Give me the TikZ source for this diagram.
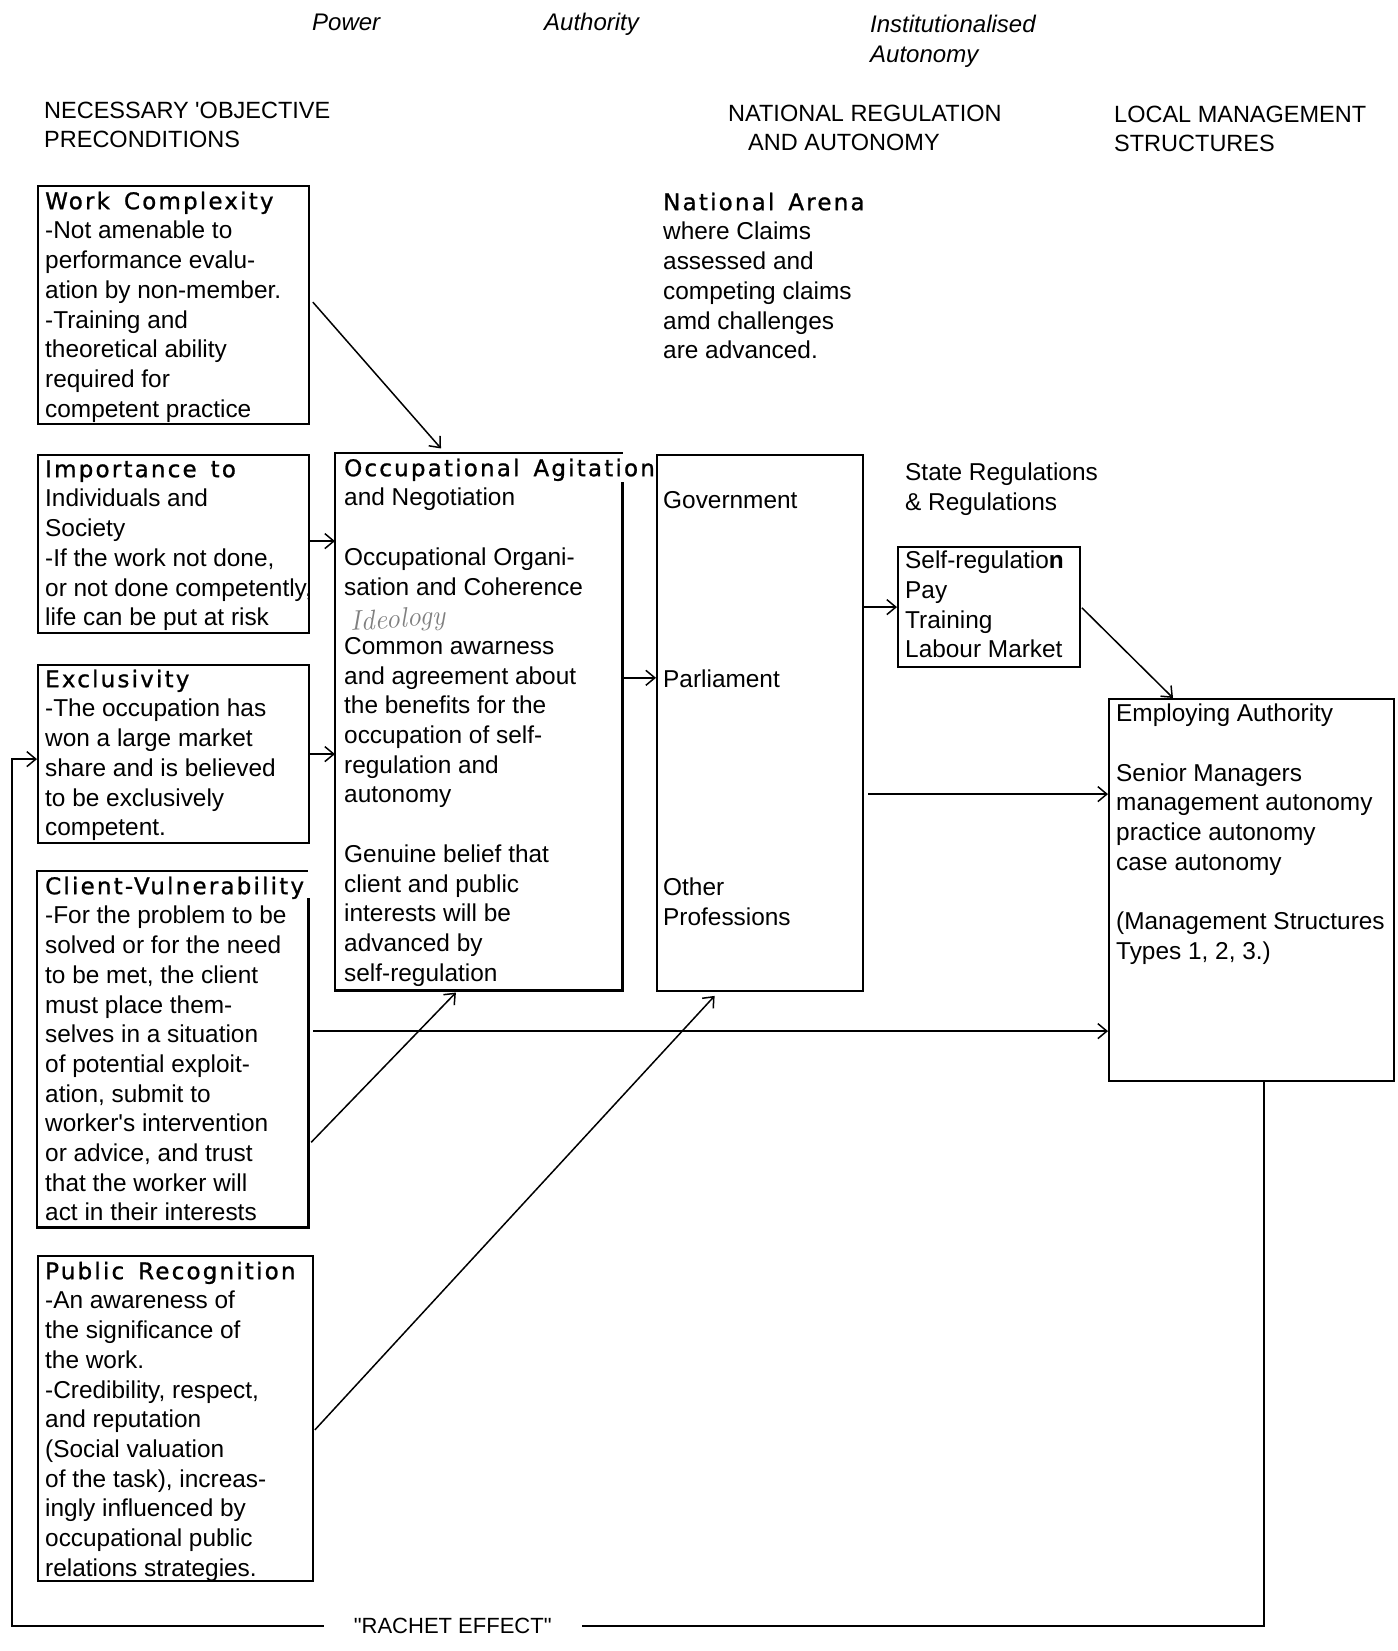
\documentclass[tikz,border=0pt]{standalone}
\usepackage{fontspec}
\usetikzlibrary{arrows.meta}
\newfontfamily\bodyfont{Liberation Sans}
\newfontfamily\headfont[LetterSpace=9.5,FakeBold=1]{DejaVu Sans}
\newcommand\bodysize{\fontsize{24.4}{29.7}\selectfont}
\newcommand\hd[1]{{\fontsize{23}{29.7}\selectfont\headfont #1}}
\newcommand\gapp{\hspace{14pt}}
\newcommand\fl{\rule{0pt}{20pt}}

\begin{document}
\begin{tikzpicture}[x=1pt,y=-1pt,
  boxline/.style={line width=2.2pt, line join=miter},
  frame/.style={draw, boxline, anchor=north west, inner sep=0pt},
  blank/.style={anchor=north west, inner sep=0pt},
  txt/.style={anchor=north west, inner sep=0pt, align=left, font=\bodyfont\bodysize},
  caps/.style={anchor=north west, inner sep=0pt, align=left, font=\bodyfont\fontsize{23.5}{29}\selectfont},
  ital/.style={anchor=north west, inner sep=0pt, align=left, font=\bodyfont\itshape\fontsize{24}{29.5}\selectfont},
  arr/.style={line width=1.5pt, -{Straight Barb[length=9pt,width=15pt,line width=1.5pt]}},
  conn/.style={line width=1.5pt}
]
\fill[white] (0,0) rectangle (1397,1651);
\useasboundingbox (0,0) rectangle (1397,1651);

% column headings
\node[ital] (pow) at (312,10.5) {\fl Power};
\node[ital] (auth) at (544,10.5) {\fl Authority};
\node[ital] (inst) at (870,12.5) {\fl Institutionalised\\Autonomy};
\node[caps] (nec) at (44,98.5) {\fl NECESSARY 'OBJECTIVE\\PRECONDITIONS};
\node[caps] (natreg) at (728,101.5) {\fl NATIONAL REGULATION\\\hspace*{20pt}AND AUTONOMY};
\node[caps] (loc) at (1114,102.5) {\fl LOCAL MANAGEMENT\\STRUCTURES};

% preconditions column
\node[frame, minimum width=271pt, minimum height=238pt] (wc) at (37,185) {};
\node[txt] (wct) at (45,189) {\fl\hd{Work\gapp Complexity}\\-Not amenable to\\performance evalu-\\ation by non-member.\\-Training and\\theoretical ability\\required for\\competent practice};

\node[frame, minimum width=271pt, minimum height=178pt] (imp) at (37,454) {};
\node[txt] (impt) at (45,457) {\fl\hd{Importance\gapp to}\\Individuals and\\Society\\-If the work not done,\\or not done competently,\\life can be put at risk};

\node[frame, minimum width=271pt, minimum height=178pt] (exc) at (37,664) {};
\node[txt] (exct) at (45,667) {\fl\hd{Exclusivity}\\-The occupation has\\won a large market\\share and is believed\\to be exclusively\\competent.};

\node[blank, minimum width=271pt, minimum height=356pt] (cv) at (37,871) {};
\draw[boxline] ([yshift=-27pt]cv.north east) -- (cv.south east) -- (cv.south west) -- (cv.north west) -- (cv.north east);
\node[txt] (cvt) at (45,874) {\fl\hd{Client-Vulnerability}\\-For the problem to be\\solved or for the need\\to be met, the client\\must place them-\\selves in a situation\\of potential exploit-\\ation, submit to\\worker's intervention\\or advice, and trust\\that the worker will\\act in their interests};

\node[frame, minimum width=275pt, minimum height=325pt] (pr) at (37,1255) {};
\node[txt] (prt) at (45,1259) {\fl\hd{Public\gapp Recognition}\\-An awareness of\\the significance of\\the work.\\-Credibility, respect,\\and reputation\\(Social valuation\\of the task), increas-\\ingly influenced by\\occupational public\\relations strategies.};

% national arena
\node[txt] (nat) at (663,190) {\fl\hd{National\gapp Arena}\\where Claims\\assessed and\\competing claims\\amd challenges\\are advanced.};

\node[blank, minimum width=287pt, minimum height=537pt] (occ) at (335,453) {};
\draw[boxline] ([yshift=-29pt]occ.north east) -- (occ.south east) -- (occ.south west) -- (occ.north west) -- ([xshift=1pt]occ.north east);
\node[txt] (occt) at (344,456) {\fl\hd{Occupational\gapp Agitation}\\and Negotiation\\[29.7pt]Occupational Organi-\\sation and Coherence\\[29.7pt]Common awarness\\and agreement about\\the benefits for the\\occupation of self-\\regulation and\\autonomy\\[29.7pt]Genuine belief that\\client and public\\interests will be\\advanced by\\self-regulation};
\node[anchor=west, inner sep=0pt, text=black!50, rotate=4, font=\rmfamily\itshape\fontsize{28}{28}\selectfont] (ideo) at (350,624) {Ideology};

\node[frame, minimum width=206pt, minimum height=536pt] (gov) at (656,454) {};
\node[txt] (govt) at (663,488.5) {\fl Government};
\node[txt] (parl) at (663,667.5) {\fl Parliament};
\node[txt] (oth) at (663,875.5) {\fl Other\\Professions};

% state regulation and local management
\node[txt] (sr) at (905,460.5) {\fl State Regulations\\\& Regulations};
\node[frame, minimum width=182pt, minimum height=120pt] (selfreg) at (897,546) {};
\node[txt] (selfregt) at (905,548.5) {\fl Self-regulatio{\bfseries n}\\Pay\\Training\\Labour Market};

\node[frame, minimum width=285pt, minimum height=382pt] (emp) at (1108,698) {};
\node[txt] (empt) at (1116,701.5) {\fl Employing Authority\\[29.7pt]Senior Managers\\management autonomy\\practice autonomy\\case autonomy\\[29.7pt](Management Structures\\Types 1, 2, 3.)};

% connectors
\draw[arr, shorten <=4pt, shorten >=6pt] ([yshift=6pt]wc.east) -- ([xshift=110pt]occ.north west);
\draw[arr] ([yshift=3pt]imp.east) -- ([yshift=3pt]imp.east -| occ.west);
\draw[arr] (exc.east) -- (exc.east -| occ.west);
\draw[arr] (occ.east |- parl.west) -- (gov.west |- parl.west);
\draw[arr] (gov.east |- selfreg.west) -- (selfreg.west);
\draw[arr, shorten <=1pt] (selfreg.east) -- ([xshift=65pt]emp.north west);
\coordinate (e1) at ([yshift=96pt]emp.west);
\coordinate (e2) at ([yshift=-141pt]emp.west);
\draw[arr, shorten <=4pt] (e1 -| gov.east) -- (e1);
\draw[arr, shorten <=5pt] (e2 -| cv.east) -- (e2);
\draw[arr, shorten <=4pt, shorten >=3pt] ([yshift=-96pt]cv.east) -- ([xshift=123pt]occ.south west);
\draw[arr, shorten <=1pt, shorten >=5pt] ([yshift=-12pt]pr.east) -- ([xshift=62pt]gov.south west);

% ratchet loop back to the preconditions
\coordinate (rb) at (12,1626);
\draw[arr] ([xshift=12.5pt]emp.south) |- node[pos=0.824, fill=white, inner xsep=30pt, inner ysep=2pt, font=\bodyfont\fontsize{22}{22}\selectfont] (ratchet) {"RACHET EFFECT"} (rb) |- ([yshift=-5pt]exc.west);
\end{tikzpicture}
\end{document}
